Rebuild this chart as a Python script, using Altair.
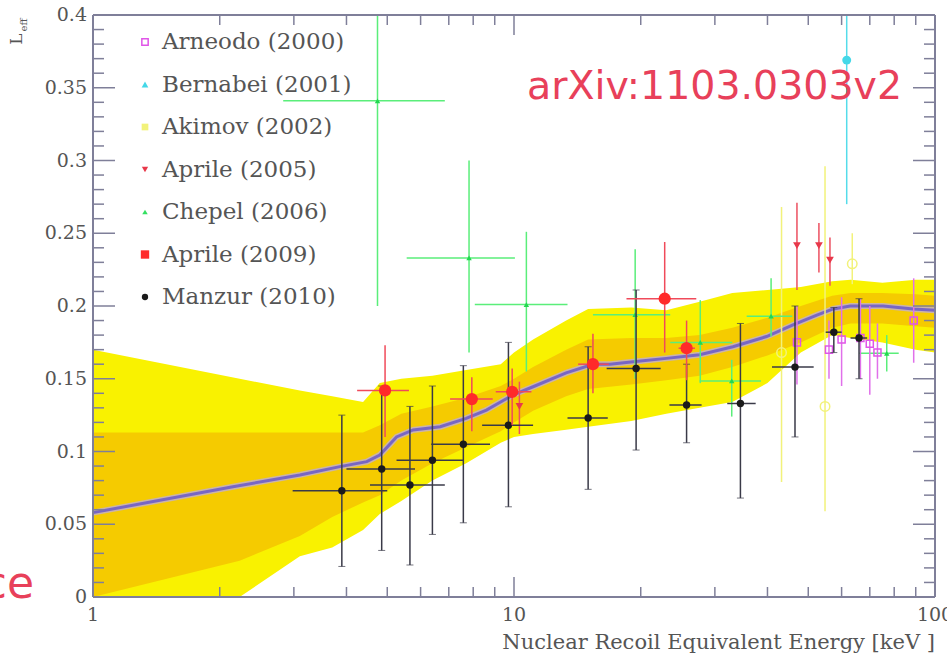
import altair as alt
import pandas as pd

# ---------------- data ----------------
# Manzur (2010)
manzur_x   = [3.9, 4.85, 5.66, 6.4, 7.58, 9.7, 15.0, 19.5, 25.7, 34.5, 46.5, 57.5, 66.0]
manzur_y   = [0.073, 0.088, 0.077, 0.094, 0.105, 0.118, 0.123, 0.157, 0.132, 0.133, 0.158, 0.182, 0.178]
manzur_ylo = [0.021, 0.032, 0.022, 0.043, 0.051, 0.062, 0.074, 0.101, 0.106, 0.068, 0.110, 0.168, 0.150]
manzur_yhi = [0.125, 0.145, 0.131, 0.145, 0.159, 0.175, 0.172, 0.211, 0.160, 0.188, 0.200, 0.199, 0.205]
manzur_xlo = [2.98, 4.0, 4.55, 5.26, 6.36, 8.4, 13.4, 16.6, 23.4, 32.1, 41.0, 55.0, 63.0]
manzur_xhi = [5.0, 5.82, 6.85, 7.58, 8.77, 11.1, 16.7, 22.3, 27.9, 37.5, 51.5, 60.0, 69.0]

# Aprile (2009)
ap09_x   = [4.94, 7.94, 9.9, 15.4, 22.8, 25.7]
ap09_y   = [0.142, 0.136, 0.141, 0.160, 0.205, 0.171]
ap09_ylo = [0.110, 0.114, 0.118, 0.140, 0.168, 0.149]
ap09_yhi = [0.173, 0.151, 0.157, 0.181, 0.244, 0.190]
ap09_xlo = [4.24, 7.05, 9.05, 14.2, 18.5, 24.6]
ap09_xhi = [5.63, 8.9, 11.0, 16.8, 27.1, 26.9]

# Aprile (2005)
ap05_x   = [10.3, 47.0, 53.0, 56.3]
ap05_y   = [0.131, 0.2415, 0.2415, 0.2316]
ap05_ylo = [0.112, 0.211, 0.223, 0.214]
ap05_yhi = [0.148, 0.271, 0.257, 0.247]

# Chepel (2006)
chep_x   = [4.74, 7.82, 10.7, 19.4, 27.7, 32.9, 40.8, 76.8]
chep_y   = [0.341, 0.233, 0.201, 0.194, 0.175, 0.1485, 0.193, 0.1675]
chep_ylo = [0.200, 0.168, 0.155, 0.150, 0.147, 0.124, 0.179, 0.155]
chep_yhi = [0.420, 0.300, 0.251, 0.239, 0.204, 0.163, 0.219, 0.180]
chep_xlo = [2.83, 5.56, 8.07, 15.4, 23.5, 27.6, 35.7, 66.0]
chep_xhi = [6.85, 10.05, 13.4, 23.5, 33.0, 38.6, 45.8, 82.0]

# Arneodo (2000)
arn_x   = [47.0, 56.0, 60.0, 66.5, 70.0, 73.0, 89.0]
arn_y   = [0.175, 0.170, 0.177, 0.178, 0.174, 0.168, 0.190]
arn_ylo = [0.146, 0.150, 0.145, 0.150, 0.139, 0.150, 0.161]
arn_yhi = [0.200, 0.190, 0.206, 0.205, 0.200, 0.188, 0.219]

# Bernabei (2001)
ber_x   = [61.7]
ber_y   = [0.369]
ber_ylo = [0.270]
ber_yhi = [0.420]

# Akimov (2002)
aki_x   = [43.2, 54.8, 63.6]
aki_y   = [0.168, 0.131, 0.229]
aki_ylo = [0.079, 0.059, 0.215]
aki_yhi = [0.268, 0.296, 0.250]

# Leff fit and bands
band_x    = [1, 2.23, 3.1, 3.7, 4.38, 4.8, 5.4, 6.4, 7.7, 9.3, 10, 11.1, 13.3, 15, 19, 23, 27.6, 33, 40, 48, 57, 63, 75, 90, 100]
outer_top = [0.170, 0.150, 0.142, 0.138, 0.134, 0.147, 0.150, 0.152, 0.156, 0.160, 0.168, 0.177, 0.190, 0.198, 0.199, 0.197, 0.203, 0.209, 0.211, 0.213, 0.217, 0.218, 0.216, 0.218, 0.218]
outer_bot = [0.0, 0.0, 0.028, 0.034, 0.046, 0.057, 0.066, 0.080, 0.092, 0.106, 0.110, 0.112, 0.115, 0.117, 0.121, 0.126, 0.130, 0.134, 0.147, 0.168, 0.180, 0.178, 0.175, 0.170, 0.168]
inner_top = [0.113, 0.113, 0.113, 0.113, 0.113, 0.118, 0.126, 0.131, 0.137, 0.145, 0.150, 0.158, 0.170, 0.177, 0.178, 0.178, 0.180, 0.185, 0.192, 0.200, 0.207, 0.209, 0.209, 0.208, 0.207]
inner_bot = [0.0, 0.025, 0.042, 0.055, 0.065, 0.070, 0.080, 0.092, 0.103, 0.114, 0.120, 0.128, 0.138, 0.143, 0.146, 0.149, 0.152, 0.158, 0.166, 0.175, 0.185, 0.188, 0.188, 0.186, 0.185]

fit_x = [1, 2.15, 3.1, 3.86, 4.47, 4.8, 5.26, 5.76, 6.68, 7.7, 8.6, 9.96, 11.1, 13.3, 15.4, 16.9, 19.2, 23, 27.6, 33.1, 39.8, 46, 52.4, 57.3, 62.9, 75.3, 88.8, 100]
fit_y = [0.058, 0.0758, 0.0839, 0.0896, 0.093, 0.0976, 0.110, 0.1148, 0.117, 0.1228, 0.1285, 0.139, 0.1445, 0.154, 0.160, 0.160, 0.1617, 0.164, 0.1665, 0.172, 0.179, 0.187, 0.1938, 0.198, 0.200, 0.200, 0.198, 0.197]

# axes
ytick_vals   = [0, 0.05, 0.1, 0.15, 0.2, 0.25, 0.3, 0.35, 0.4]
ytick_labels = ["0", "0.05", "0.1", "0.15", "0.2", "0.25", "0.3", "0.35", "0.4"]
ytick_minor  = [0.01, 0.02, 0.03, 0.04, 0.06, 0.07, 0.08, 0.09, 0.11, 0.12, 0.13, 0.14,
                0.16, 0.17, 0.18, 0.19, 0.21, 0.22, 0.23, 0.24, 0.26, 0.27, 0.28, 0.29,
                0.31, 0.32, 0.33, 0.34, 0.36, 0.37, 0.38, 0.39]
xtick_vals   = [1, 10, 100]
xtick_labels = ["1", "10", "100"]
xtick_minor  = [2, 3, 4, 5, 6, 7, 8, 9, 20, 30, 40, 50, 60, 70, 80, 90]

legend_labels = ["Arneodo (2000)", "Bernabei (2001)", "Akimov (2002)", "Aprile (2005)",
                 "Chepel (2006)", "Aprile (2009)", "Manzur (2010)"]
legend_colors = ["#e055e8", "#44d8e8", "#f2f27a", "#e8384a", "#33e060", "#ff2a2a", "#1a1a1a"]
legend_shapes = ["square", "triangle-up", "square", "triangle-down", "triangle-up", "square", "circle"]
legend_filled = [False, True, True, True, True, True, True]
legend_sizes  = [40, 45, 45, 40, 30, 70, 40]

# ---------------- chart ----------------
W, H = 842, 582
xs = alt.Scale(type="log", domain=[1, 100], nice=False)
ys = alt.Scale(domain=[0, 0.4], nice=False, zero=False)


def X(f):
    return alt.X(f, type="quantitative", scale=xs, axis=None)


def Y(f):
    return alt.Y(f, type="quantitative", scale=ys, axis=None)


layers = []

band_df = pd.DataFrame({"x": band_x, "ot": outer_top, "ob": outer_bot, "it": inner_top, "ib": inner_bot})
layers.append(alt.Chart(band_df).mark_area(color="#f9f200", opacity=1, orient="vertical", clip=True)
              .encode(x=X("x"), y=Y("ot"), y2=alt.Y2("ob")))
layers.append(alt.Chart(band_df).mark_area(color="#f5cb00", opacity=1, orient="vertical", clip=True)
              .encode(x=X("x"), y=Y("it"), y2=alt.Y2("ib")))

fit_df = pd.DataFrame({"x": fit_x, "y": fit_y})
layers.append(alt.Chart(fit_df).mark_line(color="#b9a9f0", strokeWidth=6, opacity=0.7)
              .encode(x=X("x"), y=Y("y")))
layers.append(alt.Chart(fit_df).mark_line(color="#7866c4", strokeWidth=3)
              .encode(x=X("x"), y=Y("y")))


def dataset(x, y, ylo, yhi, color, shape, filled, size, lcolor, lw=1.5, xlo=None, xhi=None, caps=False):
    d = {"x": x, "y": y, "ylo": ylo, "yhi": yhi}
    if xlo is not None:
        d["xlo"] = xlo
        d["xhi"] = xhi
    df = pd.DataFrame(d)
    out = [alt.Chart(df).mark_rule(color=lcolor, strokeWidth=lw, clip=True)
           .encode(x=X("x"), y=Y("ylo"), y2=alt.Y2("yhi"))]
    if xlo is not None:
        out.append(alt.Chart(df).mark_rule(color=lcolor, strokeWidth=lw, clip=True)
                   .encode(x=X("xlo"), x2=alt.X2("xhi"), y=Y("y")))
    if caps:
        for f in ["ylo", "yhi"]:
            out.append(alt.Chart(df).mark_tick(color=lcolor, thickness=1, size=7, orient="horizontal", clip=True)
                       .encode(x=X("x"), y=Y(f)))
    out.append(alt.Chart(df).mark_point(shape=shape, filled=filled, size=size, color=color,
                                        opacity=1, strokeWidth=1.5, clip=True)
               .encode(x=X("x"), y=Y("y")))
    return out


layers += dataset(aki_x, aki_y, aki_ylo, aki_yhi, "#f2f27a", "circle", False, 90, "#f2f27a")
layers += dataset(chep_x, chep_y, chep_ylo, chep_yhi, "#22d850", "triangle-up", True, 30, "#5aee7a",
                  xlo=chep_xlo, xhi=chep_xhi)
layers += dataset(arn_x, arn_y, arn_ylo, arn_yhi, "#e055e8", "square", False, 50, "#e070ea")
layers += dataset(ber_x, ber_y, ber_ylo, ber_yhi, "#44d8e8", "circle", True, 80, "#55dcea")
layers += dataset(ap05_x, ap05_y, ap05_ylo, ap05_yhi, "#e8384a", "triangle-down", True, 60, "#ec5060")
layers += dataset(manzur_x, manzur_y, manzur_ylo, manzur_yhi, "#1a1a1a", "circle", True, 55, "#3a3a48",
                  xlo=manzur_xlo, xhi=manzur_xhi, caps=True)
layers += dataset(ap09_x, ap09_y, ap09_ylo, ap09_yhi, "#ff2a2a", "circle", True, 150, "#f04a5a",
                  xlo=ap09_xlo, xhi=ap09_xhi)

# frame and ticks
FR = "#7f7f99"
yt_major = pd.DataFrame({"v": ytick_vals[1:-1]})
yt_minor = pd.DataFrame({"v": ytick_minor})
xt_minor = pd.DataFrame({"v": xtick_minor})
xt_major = pd.DataFrame({"v": [10]})
for df, ln in [(yt_major, 22), (yt_minor, 11)]:
    layers.append(alt.Chart(df).mark_rule(color=FR, strokeWidth=1.5)
                  .encode(x=alt.value(0), x2=alt.value(ln), y=Y("v")))
    layers.append(alt.Chart(df).mark_rule(color=FR, strokeWidth=1.5)
                  .encode(x=alt.value(W - ln), x2=alt.value(W), y=Y("v")))
for df, ln in [(xt_minor, 10), (xt_major, 20)]:
    layers.append(alt.Chart(df).mark_rule(color=FR, strokeWidth=1.5)
                  .encode(x=X("v"), y=alt.value(H), y2=alt.value(H - ln)))
    layers.append(alt.Chart(df).mark_rule(color=FR, strokeWidth=1.5)
                  .encode(x=X("v"), y=alt.value(0), y2=alt.value(ln)))

one = pd.DataFrame({"k": [0]})
for (x1, x2, y1, y2) in [(0, W, 0, 0), (0, W, H, H), (0, 0, 0, H), (W, W, 0, H)]:
    layers.append(alt.Chart(one).mark_rule(color=FR, strokeWidth=2)
                  .encode(x=alt.value(x1), x2=alt.value(x2), y=alt.value(y1), y2=alt.value(y2)))

# tick labels
LBL = "#555555"
SERIF = "DejaVu Serif"
ylab_df = pd.DataFrame({"v": ytick_vals, "t": ytick_labels})
layers.append(alt.Chart(ylab_df).mark_text(align="right", baseline="middle", font=SERIF, fontSize=19, color=LBL)
              .encode(x=alt.value(-6), y=Y("v"), text="t:N"))
xlab_df = pd.DataFrame({"v": xtick_vals, "t": xtick_labels})
layers.append(alt.Chart(xlab_df).mark_text(align="center", baseline="top", font=SERIF, fontSize=19, color=LBL)
              .encode(x=X("v"), y=alt.value(H + 9), text="t:N"))

# axis titles
layers.append(alt.Chart(one).mark_text(align="right", baseline="alphabetic", font=SERIF, fontSize=21, color=LBL)
              .encode(x=alt.value(W), y=alt.value(634), text=alt.value("Nuclear Recoil Equivalent Energy [keV    ]")))
layers.append(alt.Chart(one).mark_text(align="center", baseline="alphabetic", font=SERIF, fontSize=13, color=LBL)
              .encode(x=alt.value(W - 26), y=alt.value(652), text=alt.value("nr")))
layers.append(alt.Chart(one).mark_text(align="center", baseline="middle", font=SERIF, fontSize=17, color=LBL, angle=270)
              .encode(x=alt.value(-76), y=alt.value(24), text=alt.value("L")))
layers.append(alt.Chart(one).mark_text(align="center", baseline="middle", font=SERIF, fontSize=10, color=LBL, angle=270)
              .encode(x=alt.value(-69), y=alt.value(10), text=alt.value("eff")))

# legend
for i, lab in enumerate(legend_labels):
    ry = 27 + 42.5 * i
    layers.append(alt.Chart(one).mark_point(shape=legend_shapes[i], filled=legend_filled[i], size=legend_sizes[i],
                                             color=legend_colors[i], opacity=1, strokeWidth=1.5)
                  .encode(x=alt.value(52), y=alt.value(ry)))
    layers.append(alt.Chart(one).mark_text(align="left", baseline="middle", font=SERIF, fontSize=23, color=LBL)
                  .encode(x=alt.value(69), y=alt.value(ry), text=alt.value(lab)))

# annotations
RED = "#e8405a"
layers.append(alt.Chart(one).mark_text(align="left", baseline="alphabetic", font="DejaVu Sans", fontSize=39.5, color=RED)
              .encode(x=alt.value(434), y=alt.value(84), text=alt.value("arXiv:1103.0303v2")))
layers.append(alt.Chart(one).mark_text(align="right", baseline="alphabetic", font="DejaVu Sans", fontSize=44, color=RED)
              .encode(x=alt.value(-59), y=alt.value(583), text=alt.value("ce")))

chart = alt.layer(*layers).properties(
    width=W, height=H,
    autosize=alt.AutoSizeParams(type="none"),
    padding={"left": 93, "top": 15, "right": 12, "bottom": 62},
    background="white",
).configure_view(strokeWidth=0)

chart.save("out.html", embed_options={"renderer": "svg", "actions": False})
